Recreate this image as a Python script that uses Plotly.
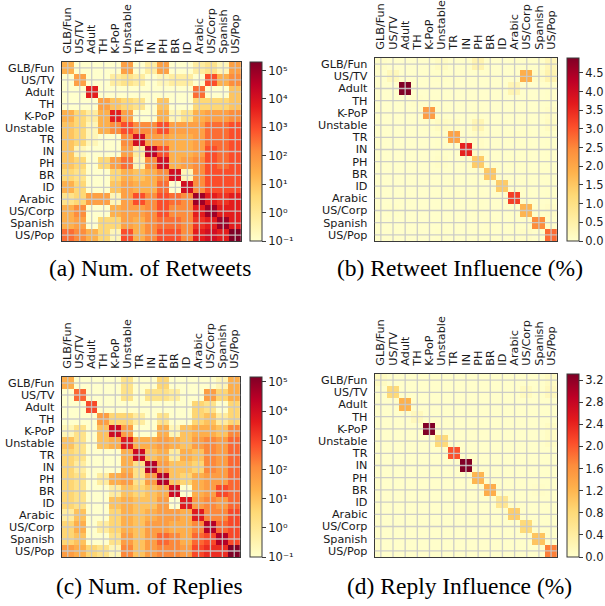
import plotly.graph_objects as go

cats = ["GLB/Fun", "US/TV", "Adult", "TH", "K-PoP", "Unstable", "TR", "IN",
        "PH", "BR", "ID", "Arabic", "US/Corp", "Spanish", "US/Pop"]

# (a) number of retweets, log10 (-1 == zero / 10^-1 floor)
retweet_log10 = [
    [1.4, -1, -1, -1, -1, 1.75, -1, -0.2, 1.75, -1, -1, -0.2, 0.2, -0.6, 1.75],
    [-1, 1.75, -1, -1, -0.2, 0.2, -0.2, -1, -0.6, -0.2, -0.2, -1, 2.95, 1.4, 2.15],
    [-1, -1, 3.7, -1, -1, -1, -1, -1, -1, -1, -1, 2.55, -1, -1, 1.0],
    [-1, -1, -1, 1.75, 1.0, 0.6, 0.2, -1, 1.0, -1, -1, 0.6, 0.6, 0.6, 1.0],
    [1.4, 0.6, -0.2, 1.4, 3.7, 1.75, -1, -1, 1.4, -0.6, 0.2, 1.4, 1.75, 1.75, 2.15],
    [1.0, 0.6, -0.6, 1.4, 2.15, 2.95, 2.15, 2.15, 2.95, 1.75, 1.75, 1.75, 2.55, 2.55, 2.95],
    [1.0, 0.6, -0.6, -1, -1, 2.15, 4.1, 1.75, 1.75, 1.4, 1.4, 1.75, 2.55, 2.55, 2.95],
    [1.0, -0.6, -1, -1, -1, 1.75, -0.2, 4.5, 2.95, 1.4, 1.4, 1.75, 2.95, 2.55, 2.95],
    [1.0, 0.6, -1, 0.6, 1.75, 2.55, -0.6, 2.15, 4.1, 1.4, 1.75, 2.15, 2.95, 2.55, 2.95],
    [0.6, 0.2, -1, -1, 0.6, 1.4, 1.0, 1.4, 2.15, 4.1, -0.6, 2.15, 2.95, 2.95, 2.95],
    [1.4, 0.6, -1, -1, 1.0, 1.75, 1.4, 1.4, 2.55, -1, 4.1, 2.15, 2.95, 2.95, 2.95],
    [0.2, 0.6, 1.75, 1.75, -0.6, 1.75, 2.95, 2.15, 2.95, 2.55, 2.15, 4.9, 3.7, 3.35, 3.7],
    [1.4, 2.15, -1, -1, 1.4, 1.75, 1.75, 2.15, 2.95, 2.15, 2.15, 3.7, 4.9, 3.7, 3.7],
    [1.4, 1.75, -1, 0.6, 0.6, 1.75, 1.4, 2.15, 2.55, 2.55, 2.15, 3.35, 3.7, 4.9, 3.7],
    [2.55, 2.15, 1.4, 0.6, -0.6, 2.95, 1.4, 2.15, 2.95, 2.95, 2.15, 3.7, 4.1, 3.7, 5.3],
]

# (c) number of replies, log10
reply_log10 = [
    [1.4, -1, -1, -1, -1, 0.2, -1, -1, 0.6, -1, -1, -1, -1, -0.6, 1.4],
    [-1, 2.55, -1, -1, -1, 0.2, -1, 0.2, 0.2, -0.2, -1, -1, 1.75, 0.6, 1.4],
    [-1, -1, 2.95, -1, -1, -1, -1, -1, -1, -1, -1, 0.6, 0.2, -1, 0.6],
    [-1, -1, -1, 1.75, 0.6, 0.6, -0.2, -1, 0.2, -1, -1, 0.6, 1.0, -0.2, 0.6],
    [-0.6, 0.2, -1, 1.0, 4.1, 1.75, -1, -1, 1.4, -0.6, 1.0, 1.4, 1.4, 1.0, 2.15],
    [1.0, 0.2, -1, 1.0, 1.4, 3.7, 1.4, 1.4, 1.75, 1.4, 1.0, 1.75, 2.15, 1.75, 2.55],
    [0.6, 0.2, -1, -1, -1, 1.4, 4.1, 1.0, 1.4, -0.2, 1.4, 1.0, 2.15, 1.75, 2.55],
    [0.6, -0.2, -1, -1, -1, 1.4, 0.2, 4.5, 1.75, 1.0, 1.0, 0.6, 2.15, 1.75, 2.55],
    [0.6, 0.2, -1, -0.2, 1.4, 1.75, 0.2, 1.75, 4.5, 1.0, 0.6, 1.4, 1.75, 1.75, 2.55],
    [0.6, 0.2, -1, -1, -0.2, 1.0, 0.6, 1.0, 1.4, 4.1, -1, 1.4, 1.75, 2.95, 2.55],
    [0.6, 0.2, -1, -1, 1.0, 1.4, 1.0, 1.0, 1.75, -1, 3.7, 1.75, 2.15, 1.75, 2.55],
    [-0.2, 1.0, -1, -1, 0.6, 1.4, 1.0, 1.4, 1.75, 1.75, 1.4, 3.7, 2.15, 2.15, 2.95],
    [0.6, 1.4, -1, -0.2, 0.6, 1.4, 1.0, 1.75, 1.75, 1.4, 1.4, 2.15, 4.5, 2.55, 2.95],
    [0.6, 1.0, -1, -1, 0.2, 1.75, 1.0, 1.75, 2.55, 2.15, 1.4, 2.55, 2.95, 4.5, 2.95],
    [1.75, 1.4, 0.6, 0.2, -0.6, 2.15, 1.0, 1.75, 2.15, 2.15, 1.75, 2.95, 3.35, 3.35, 5.17],
]

# (b) retweet influence (%)
retweet_infl = [
    [0.08, 0.02, 0.02, 0.02, 0.03, 0.15, 0.03, 0.05, 0.4, 0.03, 0.02, 0.05, 0.05, 0.05, 0.3],
    [0.02, 0.25, 0.02, 0.02, 0.03, 0.05, 0.03, 0.02, 0.03, 0.03, 0.02, 0.03, 1.9, 0.1, 0.4],
    [0.02, 0.02, 4.9, 0.02, 0.02, 0.02, 0.02, 0.02, 0.02, 0.02, 0.02, 0.35, 0.02, 0.02, 0.05],
    [0.02, 0.02, 0.02, 0.06, 0.03, 0.03, 0.02, 0.02, 0.03, 0.02, 0.02, 0.02, 0.03, 0.02, 0.05],
    [0.03, 0.02, 0.02, 0.03, 2.2, 0.05, 0.02, 0.02, 0.05, 0.02, 0.02, 0.03, 0.03, 0.03, 0.1],
    [0.03, 0.02, 0.02, 0.03, 0.05, 0.15, 0.1, 0.03, 0.35, 0.03, 0.03, 0.03, 0.05, 0.03, 0.15],
    [0.03, 0.02, 0.02, 0.02, 0.02, 0.05, 2.1, 0.03, 0.1, 0.03, 0.03, 0.05, 0.05, 0.03, 0.05],
    [0.03, 0.02, 0.02, 0.02, 0.02, 0.05, 0.03, 3.6, 0.1, 0.03, 0.03, 0.03, 0.05, 0.03, 0.05],
    [0.03, 0.02, 0.02, 0.02, 0.03, 0.08, 0.02, 0.05, 1.45, 0.03, 0.03, 0.05, 0.05, 0.03, 0.05],
    [0.02, 0.02, 0.02, 0.02, 0.02, 0.03, 0.03, 0.03, 0.05, 1.5, 0.02, 0.03, 0.05, 0.05, 0.05],
    [0.03, 0.02, 0.02, 0.02, 0.02, 0.03, 0.05, 0.03, 0.05, 0.02, 1.45, 0.03, 0.05, 0.03, 0.05],
    [0.02, 0.02, 0.03, 0.02, 0.02, 0.03, 0.05, 0.03, 0.05, 0.03, 0.03, 3.25, 0.05, 0.03, 0.05],
    [0.03, 0.05, 0.02, 0.02, 0.02, 0.03, 0.03, 0.03, 0.05, 0.03, 0.03, 0.05, 1.8, 0.05, 0.1],
    [0.02, 0.02, 0.02, 0.02, 0.02, 0.03, 0.03, 0.03, 0.03, 0.05, 0.03, 0.05, 0.05, 2.45, 0.05],
    [0.03, 0.03, 0.02, 0.02, 0.02, 0.05, 0.03, 0.03, 0.05, 0.05, 0.03, 0.05, 0.1, 0.05, 2.8],
]

# (d) reply influence (%)
reply_infl = [
    [0.1, 0.02, 0.02, 0.02, 0.02, 0.02, 0.02, 0.02, 0.02, 0.02, 0.02, 0.02, 0.02, 0.02, 0.1],
    [0.02, 0.8, 0.02, 0.02, 0.02, 0.02, 0.02, 0.02, 0.02, 0.02, 0.02, 0.02, 0.12, 0.03, 0.15],
    [0.02, 0.02, 1.25, 0.02, 0.02, 0.02, 0.02, 0.02, 0.02, 0.02, 0.02, 0.02, 0.02, 0.02, 0.03],
    [0.02, 0.02, 0.02, 0.15, 0.02, 0.02, 0.02, 0.02, 0.02, 0.02, 0.02, 0.02, 0.02, 0.02, 0.03],
    [0.02, 0.02, 0.02, 0.02, 3.3, 0.02, 0.02, 0.02, 0.03, 0.02, 0.02, 0.02, 0.02, 0.02, 0.08],
    [0.02, 0.02, 0.02, 0.02, 0.02, 0.8, 0.02, 0.02, 0.02, 0.02, 0.02, 0.02, 0.02, 0.02, 0.08],
    [0.02, 0.02, 0.02, 0.02, 0.02, 0.02, 2.05, 0.02, 0.02, 0.02, 0.02, 0.02, 0.02, 0.02, 0.03],
    [0.02, 0.02, 0.02, 0.02, 0.02, 0.02, 0.02, 3.3, 0.02, 0.02, 0.02, 0.02, 0.02, 0.02, 0.03],
    [0.02, 0.02, 0.02, 0.02, 0.02, 0.02, 0.02, 0.02, 1.2, 0.02, 0.02, 0.02, 0.02, 0.02, 0.03],
    [0.02, 0.02, 0.02, 0.02, 0.02, 0.02, 0.02, 0.02, 0.02, 1.3, 0.02, 0.02, 0.02, 0.05, 0.03],
    [0.02, 0.02, 0.02, 0.02, 0.02, 0.02, 0.02, 0.02, 0.02, 0.02, 0.55, 0.02, 0.02, 0.02, 0.03],
    [0.02, 0.02, 0.02, 0.02, 0.02, 0.02, 0.02, 0.02, 0.02, 0.02, 0.02, 0.95, 0.02, 0.02, 0.03],
    [0.02, 0.02, 0.02, 0.02, 0.02, 0.02, 0.02, 0.02, 0.02, 0.02, 0.02, 0.02, 0.8, 0.02, 0.03],
    [0.02, 0.02, 0.02, 0.02, 0.02, 0.02, 0.02, 0.02, 0.02, 0.02, 0.02, 0.02, 0.02, 1.05, 0.03],
    [0.02, 0.02, 0.02, 0.02, 0.02, 0.02, 0.02, 0.02, 0.02, 0.02, 0.02, 0.02, 0.02, 0.02, 1.75],
]

captions = ["(a) Num. of Retweets", "(b) Retweet Influence (%)",
            "(c) Num. of Replies", "(d) Reply Influence (%)"]

log_ticks = [-1, 0, 1, 2, 3, 4, 5]
log_ticktext = ["10\u207b\u00b9", "10\u2070", "10\u00b9", "10\u00b2",
                "10\u00b3", "10\u2074", "10\u2075"]
rt_ticks = [0.0, 0.5, 1.0, 1.5, 2.0, 2.5, 3.0, 3.5, 4.0, 4.5]
rp_ticks = [0.0, 0.4, 0.8, 1.2, 1.6, 2.0, 2.4, 2.8, 3.2]

ylorrd = ["#ffffcc", "#ffeda0", "#fed976", "#feb24c", "#fd8d3c",
          "#fc4e2a", "#e31a1c", "#bd0026", "#800026"]
cscale = [[i / 8, c] for i, c in enumerate(ylorrd)]

W, H = 605, 606
FONT = "DejaVu Sans"
SERIF = "Liberation Serif, Times New Roman, Times, serif"
TXT = "#1a1a1a"
EDGE = "#3a3a3a"

# pixel layout: heatmap box (left, right, top, bottom), colorbar left, caption centre
panels = [
    dict(z=retweet_log10, box=(62, 242, 62, 241), cbx=251, zmin=-1, zmax=5.3,
         tv=log_ticks, tt=log_ticktext, cap=(150, 268)),
    dict(z=retweet_infl, box=(376, 559, 58, 241), cbx=569, zmin=0, zmax=4.9,
         tv=rt_ticks, tt=["%.1f" % v for v in rt_ticks], cap=(462, 268)),
    dict(z=reply_log10, box=(62, 241, 377, 557), cbx=251, zmin=-1, zmax=5.17,
         tv=log_ticks, tt=log_ticktext, cap=(150, 586)),
    dict(z=reply_infl, box=(376, 559, 374, 557), cbx=569, zmin=0, zmax=3.31,
         tv=rp_ticks, tt=["%.1f" % v for v in rp_ticks], cap=(461, 586)),
]

fig = go.Figure()
shapes = []
annotations = []
idx = list(range(len(cats)))

for k, p in enumerate(panels):
    n = "" if k == 0 else str(k + 1)
    l, r, t, b = p["box"]
    fig.add_trace(go.Heatmap(
        z=p["z"], x=idx, y=idx, xaxis="x" + n, yaxis="y" + n,
        colorscale=cscale, zmin=p["zmin"], zmax=p["zmax"], hoverinfo="skip",
        colorbar=dict(
            x=p["cbx"] / W, xanchor="left", xpad=0, ypad=0,
            y=1 - b / H, yanchor="bottom", len=(b - t) / H, lenmode="fraction",
            thickness=12, thicknessmode="pixels",
            outlinewidth=1, outlinecolor=EDGE,
            tickmode="array", tickvals=p["tv"], ticktext=p["tt"],
            ticks="outside", ticklen=4, tickwidth=1, tickcolor=EDGE,
            tickfont=dict(family=FONT, size=11.5, color=TXT),
        ),
    ))
    xa = dict(domain=[l / W, r / W], anchor="y" + n, side="top",
              range=[-0.5, len(cats) - 0.5], tickmode="array", tickvals=idx,
              ticktext=cats, tickangle=-90, ticks="", ticklabelstandoff=5,
              showgrid=False, zeroline=False, showline=True, mirror=True,
              linecolor=EDGE, linewidth=1.2,
              tickfont=dict(family=FONT, size=11.2, color=TXT))
    ya = dict(domain=[1 - b / H, 1 - t / H], anchor="x" + n,
              range=[len(cats) - 0.5, -0.5], tickmode="array", tickvals=idx,
              ticktext=cats, ticks="", ticklabelstandoff=4,
              showgrid=False, zeroline=False, showline=True, mirror=True,
              linecolor=EDGE, linewidth=1.2,
              tickfont=dict(family=FONT, size=11.2, color=TXT))
    fig.update_layout({"xaxis" + n: xa, "yaxis" + n: ya})
    for i in idx:
        shapes.append(dict(type="line", xref="x" + n, yref="y" + n + " domain",
                           x0=i, x1=i, y0=0, y1=1, layer="above",
                           line=dict(color="rgba(200,200,200,0.9)", width=1.3)))
        shapes.append(dict(type="line", xref="x" + n + " domain", yref="y" + n,
                           x0=0, x1=1, y0=i, y1=i, layer="above",
                           line=dict(color="rgba(200,200,200,0.9)", width=1.3)))
    cx, cy = p["cap"]
    annotations.append(dict(text=captions[k], xref="paper", yref="paper",
                            x=cx / W, y=1 - cy / H, xanchor="center",
                            yanchor="middle", showarrow=False,
                            font=dict(family=SERIF, size=23.5, color="black")))

fig.update_layout(width=W, height=H, autosize=False,
                  margin=dict(l=0, r=0, t=0, b=0),
                  paper_bgcolor="white", plot_bgcolor="white",
                  shapes=shapes, annotations=annotations, showlegend=False)

fig.write_html("out.html")
